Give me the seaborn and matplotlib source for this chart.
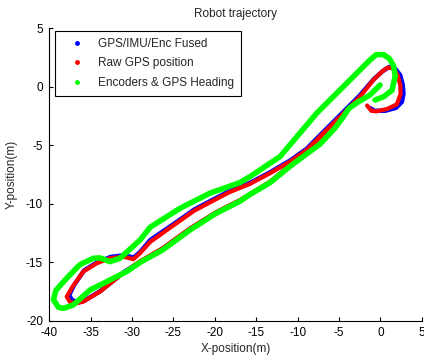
import matplotlib
matplotlib.use("Agg")
import matplotlib.pyplot as plt
import seaborn as sns
import pandas as pd
from matplotlib.lines import Line2D

# ---- data ----
series_names = ["GPS/IMU/Enc Fused", "Raw GPS position", "Encoders & GPS Heading"]
series_colors = ["#0000ff", "#ff0000", "#00ff00"]

fused_x = [-5.4, -7.3, -9.2, -10.9, -13.3, -15.7, -17.0, -19.8, -23.0, -26.3, -29.0,
           -31.0, -33.8, -35.8, -36.6, -37.3, -37.6, -37.0, -35.8, -34.2, -32.6, -31.0, -29.8,
           -29.0, -27.8, -24.8, -22.5, -20.9, -18.2, -15.7, -13.3, -10.9, -8.9, -7.3, -4.9,
           -2.5, -0.8, 0.3, 1.1, 1.8, 2.4, 2.7, 2.8, 2.6, 1.9, 0.6, -0.7, -1.3]
fused_y = [-3.5, -4.85, -5.85, -6.75, -8.15, -9.2, -9.75, -10.75, -12.15, -13.85, -14.95,
           -15.85, -17.45, -18.3, -18.45, -18.2, -17.8, -16.95, -15.7, -15.0, -14.55, -14.4, -14.6,
           -14.1, -13.1, -11.65, -10.5, -9.9, -8.9, -8.2, -7.3, -6.3, -5.3, -4.15, -2.45,
           -0.75, 0.65, 1.35, 1.7, 1.55, 1.0, 0.2, -0.6, -1.3, -1.8, -2.05, -2.05, -1.8]

raw_x = [-5.5, -7.3, -9.2, -10.9, -13.3, -15.7, -17.0, -19.8, -23.0, -26.3, -29.0,
         -31.0, -33.87, -35.89, -36.69, -37.5, -37.9, -37.2, -35.89, -34.27, -32.67, -31.06, -29.85,
         -29.04, -27.8, -24.8, -22.5, -20.9, -18.2, -15.75, -13.33, -10.92, -8.9, -7.29, -4.87,
         -2.46, -0.85, 0.2, 0.9, 1.6, 2.1, 2.4, 2.45, 2.0, 0.8, -0.5, -1.1, -1.6]
raw_y = [-3.45, -4.8, -5.8, -6.7, -8.1, -9.15, -9.7, -10.7, -12.1, -13.8, -14.9,
         -15.9, -17.51, -18.37, -18.5, -18.4, -17.95, -17.1, -15.8, -15.09, -14.66, -14.52, -14.74,
         -14.23, -13.26, -11.75, -10.6, -10.0, -9.0, -8.3, -7.39, -6.4, -5.4, -4.26, -2.56,
         -0.85, 0.58, 1.3, 1.65, 1.55, 1.0, 0.2, -0.6, -1.5, -1.9, -2.1, -2.05, -1.6]

enc_x = [-0.04, -1.25, -2.7, -3.8, -4.4, -5.48, -7.29, -9.2, -10.92, -13.33, -15.75, -17.0, -19.8,
         -23.0, -26.3, -29.0, -30.65, -33.06, -35.08, -37.1, -38.3, -38.9, -39.5, -39.2, -37.9, -36.29,
         -34.68, -33.87, -32.67, -31.46, -29.04, -27.8, -24.18, -20.6, -17.0, -15.75, -12.1,
         -7.69, -3.67, -1.25, -0.5, 0.4, 1.1, 1.6, 1.8, 1.4, 0.4, -0.64]
enc_y = [0.15, -0.7, -1.3, -1.85, -2.5, -3.52, -4.9, -5.9, -6.8, -8.2, -9.2, -9.8, -10.8,
         -12.24, -13.95, -15.0, -15.8, -16.66, -17.37, -18.65, -18.95, -18.85, -18.2, -17.4, -16.37, -15.2,
         -14.66, -14.63, -14.95, -14.66, -13.1, -12.0, -10.38, -9.1, -8.2, -7.68, -5.95,
         -2.26, 0.58, 2.29, 2.75, 2.75, 2.4, 1.8, 0.9, -0.3, -0.85, -1.13]

x_ticks = [-40, -35, -30, -25, -20, -15, -10, -5, 0, 5]
y_ticks = [-20, -15, -10, -5, 0, 5]

# ---- style ----
sns.set_style("ticks")
plt.rcParams["font.family"] = ["Liberation Sans", "DejaVu Sans"]
plt.rcParams["axes.unicode_minus"] = False

fig = plt.figure(figsize=(4.24, 3.63), dpi=100)
ax = fig.add_axes([0.1163, 0.1165, 0.8783, 0.8055])

frames = [
    pd.DataFrame({"x": fused_x, "y": fused_y}),
    pd.DataFrame({"x": raw_x, "y": raw_y}),
    pd.DataFrame({"x": enc_x, "y": enc_y}),
]
widths = [3.2, 3.0, 4.0]
for df, col, lw in zip(frames, series_colors, widths):
    sns.lineplot(data=df, x="x", y="y", sort=False, estimator=None, color=col,
                 linewidth=lw, ax=ax, solid_capstyle="round", solid_joinstyle="round")

ax.set_xlim(-40, 5)
ax.set_ylim(-20, 5)
ax.set_xticks(x_ticks)
ax.set_yticks(y_ticks)
ax.tick_params(direction="in", length=3, width=0.8, labelsize=8.5, colors="black", pad=4.5)
for s in ["top", "right"]:
    ax.spines[s].set_visible(False)
for s in ["left", "bottom"]:
    ax.spines[s].set_color("black")
    ax.spines[s].set_linewidth(0.8)

ax.set_xlabel("X-position(m)", fontsize=8.5, labelpad=3)
ax.set_ylabel("Y-position(m)", fontsize=8.5, labelpad=6)
ax.set_title("Robot trajectory", fontsize=8.5, pad=8)

handles = [Line2D([], [], marker=".", linestyle="none", color=c, markersize=5)
           for c in series_colors]
leg = ax.legend(handles, series_names, loc="upper left", bbox_to_anchor=(0.0153, 0.991),
                borderaxespad=0, fontsize=8.5, frameon=True, fancybox=False,
                edgecolor="black", framealpha=1, handlelength=2.6, handletextpad=0.45,
                borderpad=0.6, labelspacing=0.62)
leg.get_frame().set_linewidth(0.8)

fig.savefig("out.png", dpi=100)
